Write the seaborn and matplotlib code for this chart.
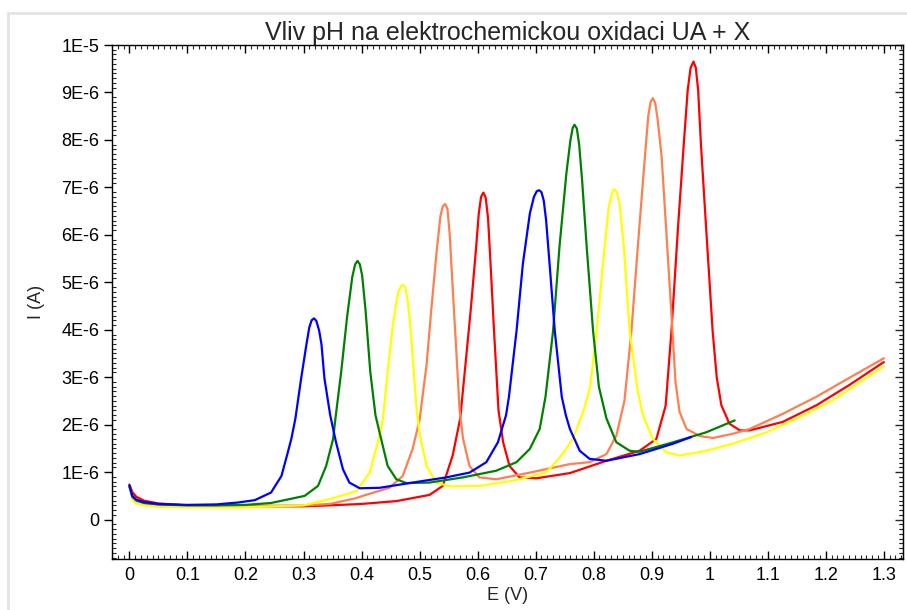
import numpy as np
import pandas as pd
import seaborn as sns
import matplotlib
matplotlib.use("Agg")
import matplotlib.pyplot as plt
from matplotlib.ticker import MultipleLocator, FixedLocator, FixedFormatter
from matplotlib.lines import Line2D

# voltammograms: E in V, I in microamps (converted to A below)
blue_E = [0, 0.005, 0.012, 0.025, 0.05, 0.1, 0.15, 0.187, 0.216, 0.244, 0.262, 0.273, 0.279,
          0.286, 0.296, 0.305, 0.310, 0.314, 0.318, 0.322, 0.327, 0.331, 0.336, 0.346, 0.356,
          0.368, 0.379, 0.397, 0.431, 0.488, 0.546, 0.586, 0.615, 0.635, 0.649, 0.654, 0.667,
          0.678, 0.690, 0.697, 0.702, 0.706, 0.710, 0.714, 0.718, 0.724, 0.733, 0.745, 0.752,
          0.759, 0.776, 0.793, 0.822, 0.879, 0.937, 0.968]
blue_I = [0.72, 0.50, 0.42, 0.37, 0.33, 0.31, 0.32, 0.36, 0.41, 0.57, 0.92, 1.42, 1.70,
          2.13, 2.98, 3.69, 4.05, 4.20, 4.24, 4.19, 3.98, 3.69, 2.98, 2.20, 1.63,
          1.06, 0.78, 0.66, 0.67, 0.78, 0.89, 0.99, 1.21, 1.63, 2.20, 2.59, 3.97,
          5.39, 6.45, 6.80, 6.92, 6.94, 6.90, 6.72, 6.31, 5.39, 3.97, 2.59, 2.20,
          1.91, 1.45, 1.28, 1.24, 1.38, 1.60, 1.74]

green_E = [0, 0.005, 0.012, 0.025, 0.05, 0.1, 0.15, 0.2, 0.244, 0.302, 0.325, 0.339, 0.351,
           0.355, 0.365, 0.375, 0.384, 0.389, 0.393, 0.397, 0.401, 0.407, 0.415, 0.424, 0.431,
           0.445, 0.460, 0.477, 0.517, 0.575, 0.632, 0.667, 0.690, 0.707, 0.717, 0.730, 0.741,
           0.753, 0.760, 0.764, 0.767, 0.771, 0.775, 0.780, 0.788, 0.799, 0.809, 0.822, 0.839,
           0.862, 0.879, 0.937, 0.994, 1.043]
green_I = [0.70, 0.48, 0.40, 0.35, 0.32, 0.30, 0.30, 0.31, 0.35, 0.50, 0.71, 1.13, 1.70,
           2.13, 3.12, 4.26, 5.11, 5.38, 5.45, 5.38, 5.15, 4.40, 3.12, 2.20, 1.84,
           1.13, 0.85, 0.77, 0.78, 0.89, 1.03, 1.21, 1.49, 1.91, 2.59, 3.97, 5.74,
           7.30, 8.00, 8.26, 8.32, 8.24, 7.90, 7.16, 5.74, 3.97, 2.80, 2.13, 1.63,
           1.45, 1.43, 1.63, 1.84, 2.09]

yellow_E = [0, 0.005, 0.012, 0.025, 0.05, 0.1, 0.2, 0.3, 0.345, 0.391, 0.414, 0.428, 0.437,
            0.445, 0.454, 0.463, 0.468, 0.471, 0.475, 0.479, 0.484, 0.490, 0.495, 0.501, 0.512,
            0.529, 0.552, 0.603, 0.661, 0.718, 0.741, 0.753, 0.764, 0.782, 0.794, 0.805, 0.816,
            0.826, 0.832, 0.836, 0.840, 0.845, 0.852, 0.862, 0.876, 0.885, 0.902, 0.925, 0.948,
            0.994, 1.040, 1.098, 1.155, 1.213, 1.3]
yellow_I = [0.68, 0.42, 0.34, 0.30, 0.27, 0.26, 0.26, 0.30, 0.43, 0.60, 0.99, 1.63, 2.13,
            3.12, 4.11, 4.79, 4.92, 4.95, 4.90, 4.65, 4.11, 3.12, 2.30, 1.75, 1.13,
            0.78, 0.70, 0.71, 0.82, 0.99, 1.30, 1.50, 1.70, 2.27, 2.80, 3.97, 5.39,
            6.60, 6.90, 6.96, 6.90, 6.62, 5.74, 3.97, 2.70, 2.20, 1.70, 1.42, 1.35,
            1.45, 1.60, 1.84, 2.16, 2.52, 3.23]

coral_E = [0, 0.005, 0.012, 0.025, 0.05, 0.1, 0.2, 0.302, 0.345, 0.39, 0.402, 0.448, 0.471,
           0.488, 0.500, 0.512, 0.520, 0.529, 0.536, 0.540, 0.544, 0.548, 0.552, 0.556, 0.562,
           0.569, 0.575, 0.586, 0.603, 0.632, 0.690, 0.759, 0.793, 0.822, 0.839, 0.853, 0.865,
           0.876, 0.886, 0.894, 0.898, 0.902, 0.906, 0.910, 0.917, 0.925, 0.934, 0.941, 0.948,
           0.960, 0.983, 1.006, 1.040, 1.069, 1.126, 1.184, 1.241, 1.3]
coral_I = [0.70, 0.50, 0.40, 0.35, 0.31, 0.29, 0.29, 0.30, 0.33, 0.45, 0.50, 0.67, 0.92,
           1.49, 2.10, 3.26, 4.40, 5.60, 6.40, 6.60, 6.65, 6.55, 6.00, 5.11, 3.83,
           2.30, 1.70, 1.13, 0.89, 0.85, 0.99, 1.17, 1.21, 1.38, 1.77, 2.50, 3.97,
           5.74, 7.30, 8.50, 8.80, 8.88, 8.78, 8.45, 7.66, 6.10, 4.33, 2.90, 2.27,
           1.91, 1.76, 1.72, 1.81, 1.91, 2.23, 2.59, 2.99, 3.40]

red_E = [0, 0.005, 0.012, 0.025, 0.05, 0.1, 0.2, 0.3, 0.345, 0.40, 0.46, 0.517, 0.540,
         0.557, 0.570, 0.579, 0.588, 0.597, 0.602, 0.606, 0.610, 0.614, 0.618, 0.622, 0.628,
         0.636, 0.644, 0.655, 0.672, 0.701, 0.759, 0.822, 0.879, 0.908, 0.924, 0.934, 0.945,
         0.955, 0.962, 0.967, 0.972, 0.976, 0.980, 0.985, 0.994, 1.005, 1.012, 1.020, 1.034,
         1.052, 1.069, 1.126, 1.184, 1.241, 1.3]
red_I = [0.74, 0.58, 0.48, 0.40, 0.34, 0.30, 0.28, 0.28, 0.30, 0.33, 0.39, 0.52, 0.71,
         1.35, 2.13, 3.26, 4.40, 5.67, 6.45, 6.80, 6.89, 6.78, 6.35, 5.46, 4.04,
         2.30, 1.63, 1.13, 0.89, 0.87, 0.98, 1.24, 1.45, 1.70, 2.40, 3.97, 6.10,
         7.87, 9.05, 9.52, 9.65, 9.52, 9.05, 7.87, 6.10, 3.97, 3.00, 2.41, 2.02,
         1.88, 1.88, 2.06, 2.41, 2.84, 3.32]

curve_names = ['blue', 'green', 'yellow', 'coral', 'red']
curve_colors = {'blue': '#0000ff', 'green': '#008000', 'yellow': '#ffff00',
                'coral': '#ff7f50', 'red': '#ff0000'}

x_ticks = [0, 0.1, 0.2, 0.3, 0.4, 0.5, 0.6, 0.7, 0.8, 0.9, 1.0, 1.1, 1.2, 1.3]
x_tick_labels = ['0', '0.1', '0.2', '0.3', '0.4', '0.5', '0.6', '0.7', '0.8', '0.9',
                 '1', '1.1', '1.2', '1.3']
y_ticks = [0, 1e-6, 2e-6, 3e-6, 4e-6, 5e-6, 6e-6, 7e-6, 8e-6, 9e-6, 1e-5]
y_tick_labels = ['0', '1E-6', '2E-6', '3E-6', '4E-6', '5E-6', '6E-6', '7E-6', '8E-6',
                 '9E-6', '1E-5']

# long table for seaborn
frames = []
for name, E, I in zip(curve_names,
                      [blue_E, green_E, yellow_E, coral_E, red_E],
                      [blue_I, green_I, yellow_I, coral_I, red_I]):
    frames.append(pd.DataFrame({'E': E, 'I': np.array(I) * 1e-6, 'curve': name}))
df = pd.concat(frames, ignore_index=True)

sns.set_style('white')
plt.rcParams['font.family'] = ['Liberation Sans', 'DejaVu Sans']

fig = plt.figure(figsize=(9.07, 6.10), dpi=100)
ax = fig.add_axes([112 / 907, 51 / 610, 791 / 907, 514 / 610])

sns.lineplot(data=df, x='E', y='I', hue='curve',
             hue_order=['red', 'coral', 'yellow', 'green', 'blue'],
             palette=curve_colors, estimator=None, sort=False, legend=False,
             linewidth=1.6, ax=ax)

ax.set_xlim(-0.03, 1.333)
ax.set_ylim(-0.83e-6, 1.0e-5)

ax.xaxis.set_major_locator(FixedLocator(x_ticks))
ax.xaxis.set_major_formatter(FixedFormatter(x_tick_labels))
ax.yaxis.set_major_locator(FixedLocator(y_ticks))
ax.yaxis.set_major_formatter(FixedFormatter(y_tick_labels))
ax.xaxis.set_minor_locator(MultipleLocator(0.01))
ax.yaxis.set_minor_locator(MultipleLocator(1e-7))

ax.tick_params(axis='x', which='major', direction='in', length=6, width=1,
               top=True, bottom=True, labelsize=13, colors='black', pad=6)
ax.tick_params(axis='x', which='minor', direction='in', length=3, width=0.8,
               top=True, bottom=True)
ax.tick_params(axis='y', which='major', direction='out', length=6, width=1,
               left=True, right=False, labelsize=13, colors='black', pad=3)
ax.tick_params(axis='y', which='minor', direction='in', length=3, width=0.8,
               left=True, right=True)
# right spine major ticks point inward
ax2 = ax.secondary_yaxis('right')
ax2.yaxis.set_major_locator(FixedLocator(y_ticks))
ax2.tick_params(which='major', direction='in', length=6, width=1, labelright=False)
ax2.yaxis.set_minor_locator(MultipleLocator(1e-7))
ax2.tick_params(which='minor', direction='in', length=3, width=0.8)

for sp in ax.spines.values():
    sp.set_color('black')
    sp.set_linewidth(1)

ax.set_xlabel('E (V)', fontsize=13, labelpad=2)
ax.set_ylabel('I (A)', fontsize=13, labelpad=12)
ax.set_title('Vliv pH na elektrochemickou oxidaci UA + X', fontsize=18, pad=0)

# faint frame lines around the figure like the screenshot
fig.add_artist(Line2D([8 / 907, 1], [1 - 13 / 610, 1 - 13 / 610],
                      transform=fig.transFigure, color='#e3e3e3', lw=2))
fig.add_artist(Line2D([8 / 907, 8 / 907], [0, 1 - 13 / 610],
                      transform=fig.transFigure, color='#e3e3e3', lw=2))

fig.savefig('out.png', dpi=100)
